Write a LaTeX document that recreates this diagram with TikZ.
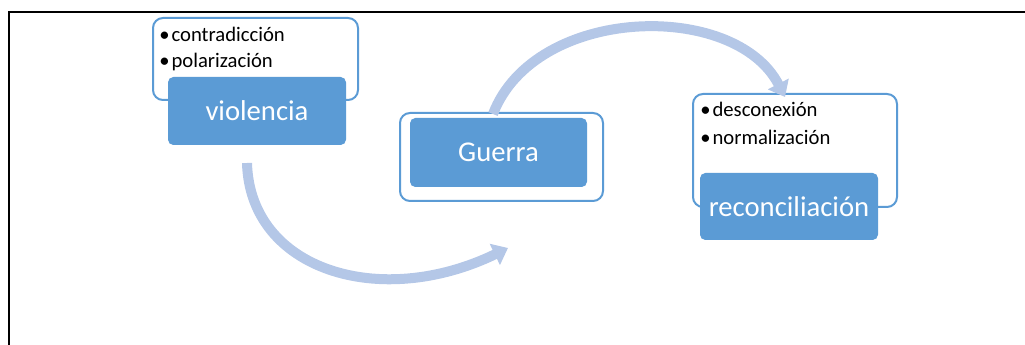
\documentclass[tikz,border=0pt]{standalone}
\usepackage{fontspec}
\setmainfont{Carlito}
\usetikzlibrary{arrows.meta}
\definecolor{boxblue}{HTML}{5B9BD5}
\definecolor{arrowblue}{HTML}{B4C7E7}
\begin{document}
\begin{tikzpicture}[x=0.75pt,y=-0.75pt,
  outerbox/.style={draw=boxblue,line width=1.5pt,fill=white,rounded corners=7.5pt,inner sep=0pt},
  innerbox/.style={fill=boxblue,rounded corners=4pt,inner sep=0pt,text=white,font=\fontsize{21.5pt}{24pt}\selectfont},
  bullettext/.style={anchor=base west,inner sep=0pt,font=\fontsize{15.5pt}{18pt}\selectfont},
  flowarrow/.style={draw=arrowblue,line width=7.5pt,-{Triangle[width=17pt,length=11pt]}},
  frameline/.style={draw=black,line width=1.5pt}]
\useasboundingbox (0,0) rectangle (1025,345);
% frame
\coordinate (ftr) at (1026,12);
\coordinate (ftl) at (9,12);
\coordinate (fbl) at (9,346);
\draw[frameline] (ftr) -- (ftl) -- (fbl);
% violencia
\node[outerbox,minimum width=153.75pt,minimum height=61.5pt] (vout) at (255.5,59) {};
\node[innerbox,minimum width=133.5pt,minimum height=51pt] (vin) at (257,111) {violencia};
\node[bullettext] (v1) at (159,42) {•\kern1.5pt contradicción};
\node[bullettext] (v2) at (159,68) {•\kern1.5pt polarización};
% Guerra
\node[outerbox,minimum width=152.25pt,minimum height=66pt] (gout) at (501.5,157) {};
\node[innerbox,minimum width=132.75pt,minimum height=51.75pt] (gin) at (498.5,152.5) {Guerra};
% reconciliacion
\node[outerbox,minimum width=153pt,minimum height=84.75pt] (rout) at (795,150.5) {};
\node[innerbox,minimum width=133.5pt,minimum height=50.25pt] (rin) at (789,206.5) {reconciliación};
\node[bullettext] (r1) at (700,117) {•\kern1.5pt desconexión};
\node[bullettext] (r2) at (700,145) {•\kern1.5pt normalización};
% arrows
\coordinate (a1s) at (247,163);
\coordinate (a1e) at (508,248);
\coordinate (a2e) at (785,97);
\coordinate (a2s) at (493,114);
\draw[flowarrow] (a1s) .. controls (250,270) and (380,310) .. (a1e);
\draw[flowarrow] (a2s) .. controls (535,5) and (735,0) .. (a2e);
\end{tikzpicture}
\end{document}
